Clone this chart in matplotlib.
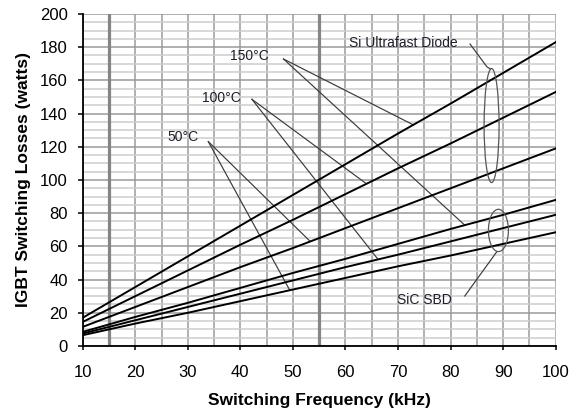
import matplotlib
matplotlib.use("Agg")
import matplotlib.pyplot as plt
import numpy as np
from matplotlib.patches import Ellipse

plt.rcParams['font.family'] = ['Liberation Sans', 'DejaVu Sans']

# ---- data ----
freq_khz = [10, 20, 30, 40, 50, 60, 70, 80, 90, 100]
si_150c = [17, 35.5, 54, 72.5, 91, 109.5, 128, 146, 164.5, 183]
si_100c = [14.5, 30, 45.5, 61, 76, 91.5, 107, 122, 137.5, 153]
si_50c = [11.5, 23.5, 35.5, 47.5, 59, 71, 83, 95, 107, 119]
sic_150c = [8.5, 17.5, 26, 35, 44, 52.5, 61.5, 70.5, 79, 88]
sic_100c = [7.5, 15.5, 23.5, 31.5, 39.5, 47.5, 55, 63, 71, 79]
sic_50c = [6.5, 13.5, 20, 27, 34, 41, 48, 54.5, 61.5, 68.5]

x_ticks = [10, 20, 30, 40, 50, 60, 70, 80, 90, 100]
y_ticks = [0, 20, 40, 60, 80, 100, 120, 140, 160, 180, 200]
temp_labels = ['150°C', '100°C', '50°C']
x_label = 'Switching Frequency (kHz)'
y_label = 'IGBT Switching Losses (watts)'

fig = plt.figure(figsize=(5.8, 4.15), dpi=100)
ax = fig.add_axes([0.1426, 0.1663, 0.8155, 0.8000])

ax.set_xlim(10, 100)
ax.set_ylim(0, 200)

# grid
ax.set_xticks(x_ticks)
ax.set_xticks(np.arange(15, 100, 10), minor=True)
ax.set_yticks(y_ticks)
ax.set_yticks(np.arange(0, 201, 5), minor=True)
ax.set_axisbelow(True)
ax.grid(True, which='minor', axis='y', color='#cdcdcd', lw=1.1, zorder=0.2)
ax.grid(True, which='major', axis='both', color='#9a9a9a', lw=1.1, zorder=0.4)
ax.grid(True, which='minor', axis='x', color='#9a9a9a', lw=1.1, zorder=0.4)
for xv in (15, 55):
    ax.axvline(xv, color='#858585', lw=2.3, zorder=1)

for s in ('top', 'right'):
    ax.spines[s].set_visible(False)
for s in ('left', 'bottom'):
    ax.spines[s].set_color('black')
    ax.spines[s].set_linewidth(1.3)

ax.tick_params(axis='both', which='minor', length=0)
ax.tick_params(axis='y', which='major', direction='out', length=3.6, width=1.1, pad=7, labelsize=12)
ax.tick_params(axis='x', which='major', direction='out', length=2.9, width=1.1, pad=11, labelsize=12)

ax.set_xlabel(x_label, fontsize=12.5, fontweight='bold')
ax.set_ylabel(y_label, fontsize=12.5, fontweight='bold')
ax.xaxis.set_label_coords(0.4996, -0.1627)
ax.xaxis.label.set_va('center')
ax.yaxis.set_label_coords(-0.126, 0.5015)
ax.yaxis.label.set_va('center')

series = [si_150c, si_100c, si_50c, sic_150c, sic_100c, sic_50c]
for s in series:
    ax.plot(freq_khz, s, color='black', lw=1.4, zorder=3)

txt_color = '#1e1e2a'
lead_color = '#3a3a3a'

# temperature callouts: (text pos, leader origin, target x on Si, target x on SiC)
callouts = [
    (temp_labels[0], (41.8, 174.7), (48.2, 172.9), (72.9, si_150c), (82.7, sic_150c)),
    (temp_labels[1], (36.4, 149.4), (42.2, 148.6), (64.0, si_100c), (66.2, sic_100c)),
    (temp_labels[2], (29.1, 125.7), (33.9, 123.1), (53.3, si_50c), (49.4, sic_50c)),
]
for lab, tpos, org, (xa, sa), (xb, sb) in callouts:
    ax.text(tpos[0], tpos[1], lab, fontsize=10, color=txt_color, ha='center', va='center', zorder=4)
    for xt, ser in ((xa, sa), (xb, sb)):
        yt = np.interp(xt, freq_khz, ser)
        ax.plot([org[0], xt], [org[1], yt], color=lead_color, lw=0.85, zorder=2)

# Si ultrafast diode group
ax.add_patch(Ellipse((87.8, 132.8), 2.85, 68.7, fill=False, edgecolor='#555555', lw=0.9, zorder=4))
ax.text(71.0, 182.3, 'Si Ultrafast Diode', fontsize=10, color=txt_color, ha='center', va='center', zorder=4)
ax.plot([83.7, 86.9, 87.6], [181.9, 168.2, 166.8], color=lead_color, lw=0.85, zorder=2)

# SiC SBD group
ax.add_patch(Ellipse((89.1, 69.6), 3.8, 25.5, fill=False, edgecolor='#555555', lw=0.9, zorder=4))
ax.text(75.1, 27.7, 'SiC SBD', fontsize=10, color=txt_color, ha='center', va='center', zorder=4)
ax.plot([82.7, 88.8], [30.1, 56.8], color=lead_color, lw=0.85, zorder=2)

fig.savefig('out.png', dpi=100)
